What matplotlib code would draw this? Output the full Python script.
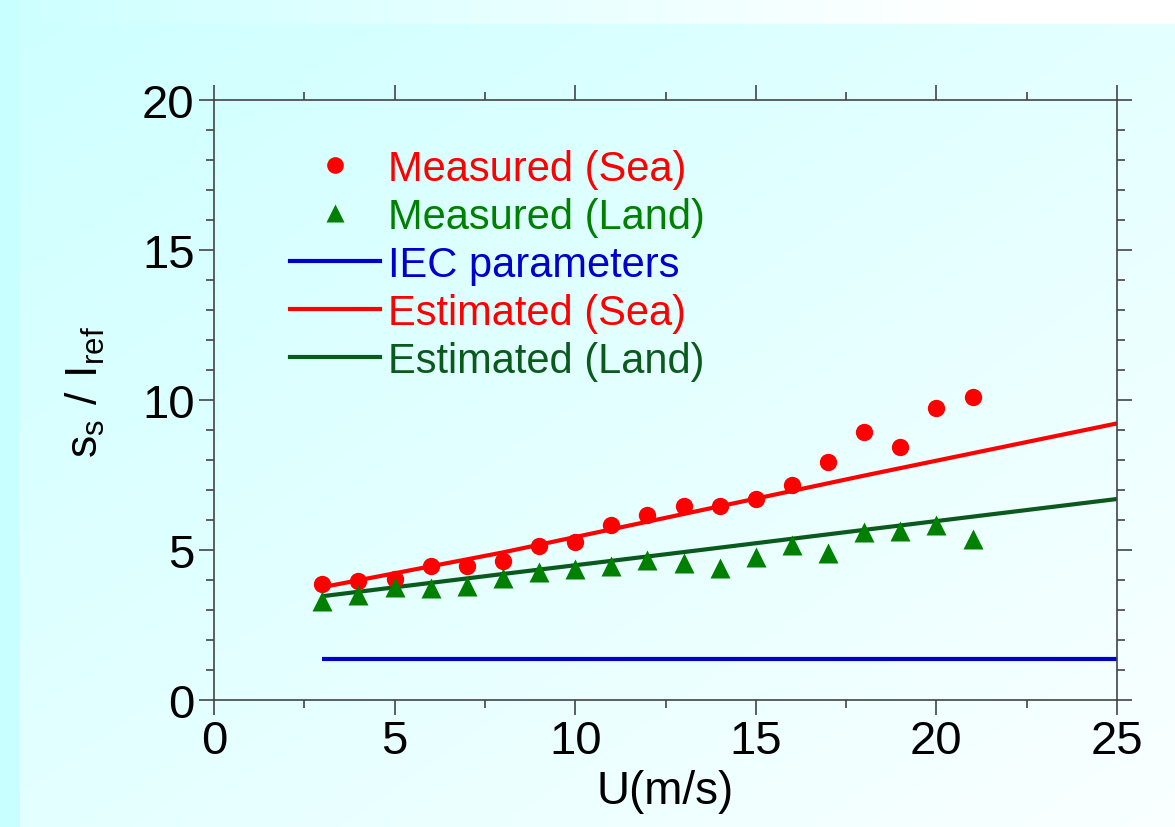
import numpy as np
import matplotlib
matplotlib.use('Agg')
from matplotlib import pyplot as plt
from matplotlib.lines import Line2D
from matplotlib.ticker import MultipleLocator

plt.rcParams['font.family'] = ['Liberation Sans', 'DejaVu Sans']
plt.rcParams['mathtext.fontset'] = 'custom'
plt.rcParams['mathtext.rm'] = 'Liberation Sans'

# wind speed (m/s)
u_meas = [3, 4, 5, 6, 7, 8, 9, 10, 11, 12, 13, 14, 15, 16, 17, 18, 19, 20, 21]
sea_meas = [3.87, 3.98, 4.03, 4.46, 4.48, 4.64, 5.14, 5.28, 5.84, 6.17, 6.48, 6.48,
            6.70, 7.17, 7.94, 8.92, 8.43, 9.73, 10.10]
land_meas = [3.31, 3.50, 3.78, 3.72, 3.79, 4.06, 4.26, 4.37, 4.48, 4.68, 4.56, 4.41,
             4.76, 5.18, 4.89, 5.59, 5.62, 5.83, 5.37]

u_est = [3, 8, 13, 18, 25]
sea_est = [3.76, 4.92, 6.20, 7.48, 9.22]
land_est = [3.46, 4.20, 4.93, 5.67, 6.70]

u_iec = [3, 25]
iec = [1.37, 1.37]

W, H = 1175, 828
fig = plt.figure(figsize=(W / 100, H / 100), dpi=100)

# slide-like background gradient
yy, xx = np.mgrid[0:H, 0:W]
t = (xx / W + yy / H) / 2
c0 = np.array([205, 255, 255]) / 255
c1 = np.array([250, 255, 255]) / 255
bg = c0 + (c1 - c0) * t[..., None]
bg[:25, :] = (c0 + (np.array([1, 1, 1]) - c0) * (xx[:25, :] / W)[..., None] * 1.2).clip(0, 1)
bg[:, :20] = np.array([200, 255, 255]) / 255
bax = fig.add_axes([0, 0, 1, 1], zorder=-10)
bax.imshow(bg, aspect='auto', extent=[0, 1, 0, 1])
bax.axis('off')

ax = fig.add_axes([214 / W, 1 - 701 / H, (1117 - 214) / W, (701 - 101) / H])
ax.patch.set_alpha(0)

red = '#ff0000'
green = '#008000'
dgreen = '#0a5a1e'
blue = '#0000cc'

ax.plot(u_iec, iec, color=blue, lw=3, solid_capstyle='butt', zorder=2)
ax.plot(u_est, sea_est, color=red, lw=3, solid_capstyle='butt', zorder=2)
ax.plot(u_est, land_est, color=dgreen, lw=3, solid_capstyle='butt', zorder=2)
ax.plot(u_meas, sea_meas, 'o', color=red, ms=12.5, mec='none', zorder=3, clip_on=False)
ax.plot(u_meas, land_meas, '^', color=green, ms=14.5, mec='none', zorder=3, clip_on=False)

ax.set_xlim(0, 25)
ax.set_ylim(0, 20)
ax.xaxis.set_major_locator(MultipleLocator(5))
ax.xaxis.set_minor_locator(MultipleLocator(2.5))
ax.yaxis.set_major_locator(MultipleLocator(5))
ax.yaxis.set_minor_locator(MultipleLocator(1))
ax.tick_params(which='both', direction='out', top=True, right=True, color='#444444',
               width=1.2, labelsize=34, pad=3)
ax.tick_params(which='major', length=11)
ax.tick_params(which='minor', length=6)
for s in ax.spines.values():
    s.set_color('#444444')
    s.set_linewidth(1.2)

ax.set_xlabel('U(m/s)', fontsize=33, labelpad=4)
fig.text(85 / W, 1 - 392 / H, r'$\mathregular{s_s\ /\ I_{ref}}$', fontsize=32,
         rotation=90, ha='center', va='center')

handles = [
    Line2D([], [], ls='none', marker='o', color=red, ms=12, mec='none'),
    Line2D([], [], ls='none', marker='^', color=green, ms=12.5, mec='none'),
    Line2D([], [], color=blue, lw=3),
    Line2D([], [], color=red, lw=3),
    Line2D([], [], color=dgreen, lw=3),
]
labels = ['Measured (Sea)', 'Measured (Land)', 'IEC parameters',
          'Estimated (Sea)', 'Estimated (Land)']
leg = fig.legend(handles, labels, loc='upper left',
                 bbox_to_anchor=(290 / W, 1 - 150 / H), frameon=False,
                 fontsize=30, handlelength=2.15, handletextpad=0.2,
                 labelspacing=0.19, borderpad=0, borderaxespad=0)
for txt, c in zip(leg.get_texts(), [red, green, blue, red, dgreen]):
    txt.set_color(c)

fig.savefig('out.png', dpi=100)
